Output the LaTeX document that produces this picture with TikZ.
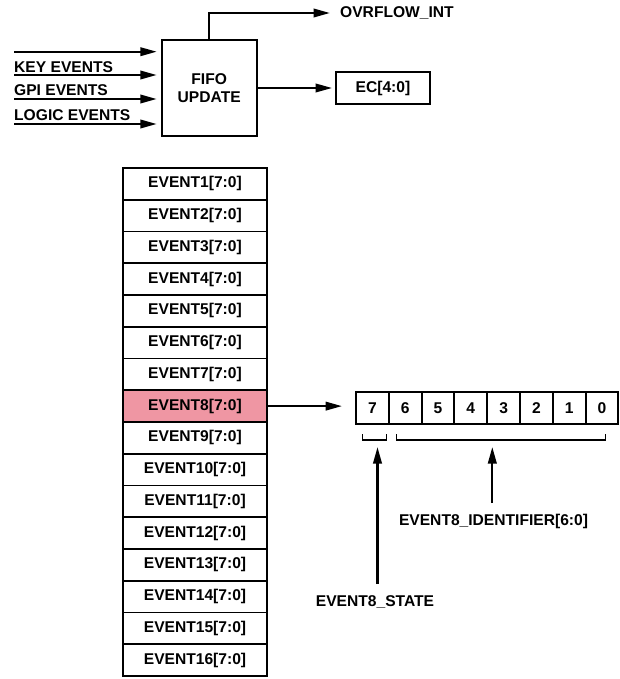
\documentclass[tikz,border=0pt]{standalone}
\usepackage{fontspec}
\setmainfont{Liberation Sans}
\usetikzlibrary{arrows.meta}
\definecolor{pinkfill}{RGB}{239,150,163}
\begin{document}
\begin{tikzpicture}[x=1pt,y=-1pt,
  font=\fontsize{15.6}{17.5}\selectfont\bfseries,
  box/.style={draw,line width=1.9pt,inner sep=0pt,align=center},
  txt/.style={inner sep=0pt},
  arr/.style={line width=2.2pt,-{Triangle[length=16.5pt,width=8.5pt]}},
  brk/.style={line width=1.1pt}]
\useasboundingbox (0,0) rectangle (619,679);
% top block
\node[box,minimum width=95pt,minimum height=96pt] (fifo) at (209.2,88) {FIFO\\UPDATE};
\node[box,minimum width=94pt,minimum height=32pt] (ec) at (383,88) {EC[4:0]};
\node[txt,anchor=west] (ovf) at (340,13) {OVRFLOW\_INT};
\coordinate (in1) at (14,51.7);
\coordinate (in2) at (14,75);
\coordinate (in3) at (14,99);
\coordinate (in4) at (14,124);
\foreach \i in {1,...,4}{\draw[arr,shorten >=4pt] (in\i) -- (in\i -| fifo.west);}
\node[txt,anchor=base west] (lkey) at (14,72.3) {KEY EVENTS};
\node[txt,anchor=base west] (lgpi) at (14,95.8) {GPI EVENTS};
\node[txt,anchor=base west] (llog) at (14,120.3) {LOGIC EVENTS};
\draw[arr,shorten >=10pt] (fifo.north) |- (ovf.west);
\draw[arr,shorten >=3pt] (fifo.east |- ec.west) -- (ec.west);
% event stack
\foreach \i in {1,...,16}{
  \node[box,minimum width=144pt,minimum height=31.75pt] (e\i) at (195,{168+31.75*(\i-0.5)}) {EVENT\i[7:0]};
}
\node[box,fill=pinkfill,minimum width=144pt,minimum height=31.75pt] at (e8) {EVENT8[7:0]};
% bit register
\foreach \b [count=\j from 0] in {7,6,5,4,3,2,1,0}{
  \node[box,minimum width=32.8pt,minimum height=32pt] (b\b) at ({356+32.8*(\j+0.5)},408.3) {\b};
}
\draw[arr,shorten >=13pt] (e8.east) -- (e8.east -| b7.west);
% brackets
\coordinate (sa) at (362.7,434);
\coordinate (sb) at (386.7,434);
\coordinate (ia) at (396.7,434);
\coordinate (ib) at (605.7,434);
\draw[brk] (sa) -- ++(0,6) -| (sb);
\draw[brk] (ia) -- ++(0,6) -| (ib);
% labels and arrows
\node[txt] (lstate) at (375,601.7) {EVENT8\_STATE};
\node[txt] (lid) at (493.5,521.7) {EVENT8\_IDENTIFIER[6:0]};
\coordinate (sbot) at (377.5,584);
\coordinate (stop) at (377.5,447);
\coordinate (ibot) at (492.3,503);
\coordinate (itop) at (492.3,447);
\draw[arr] (sbot) -- (stop);
\draw[arr] (ibot) -- (itop);
\end{tikzpicture}
\end{document}
